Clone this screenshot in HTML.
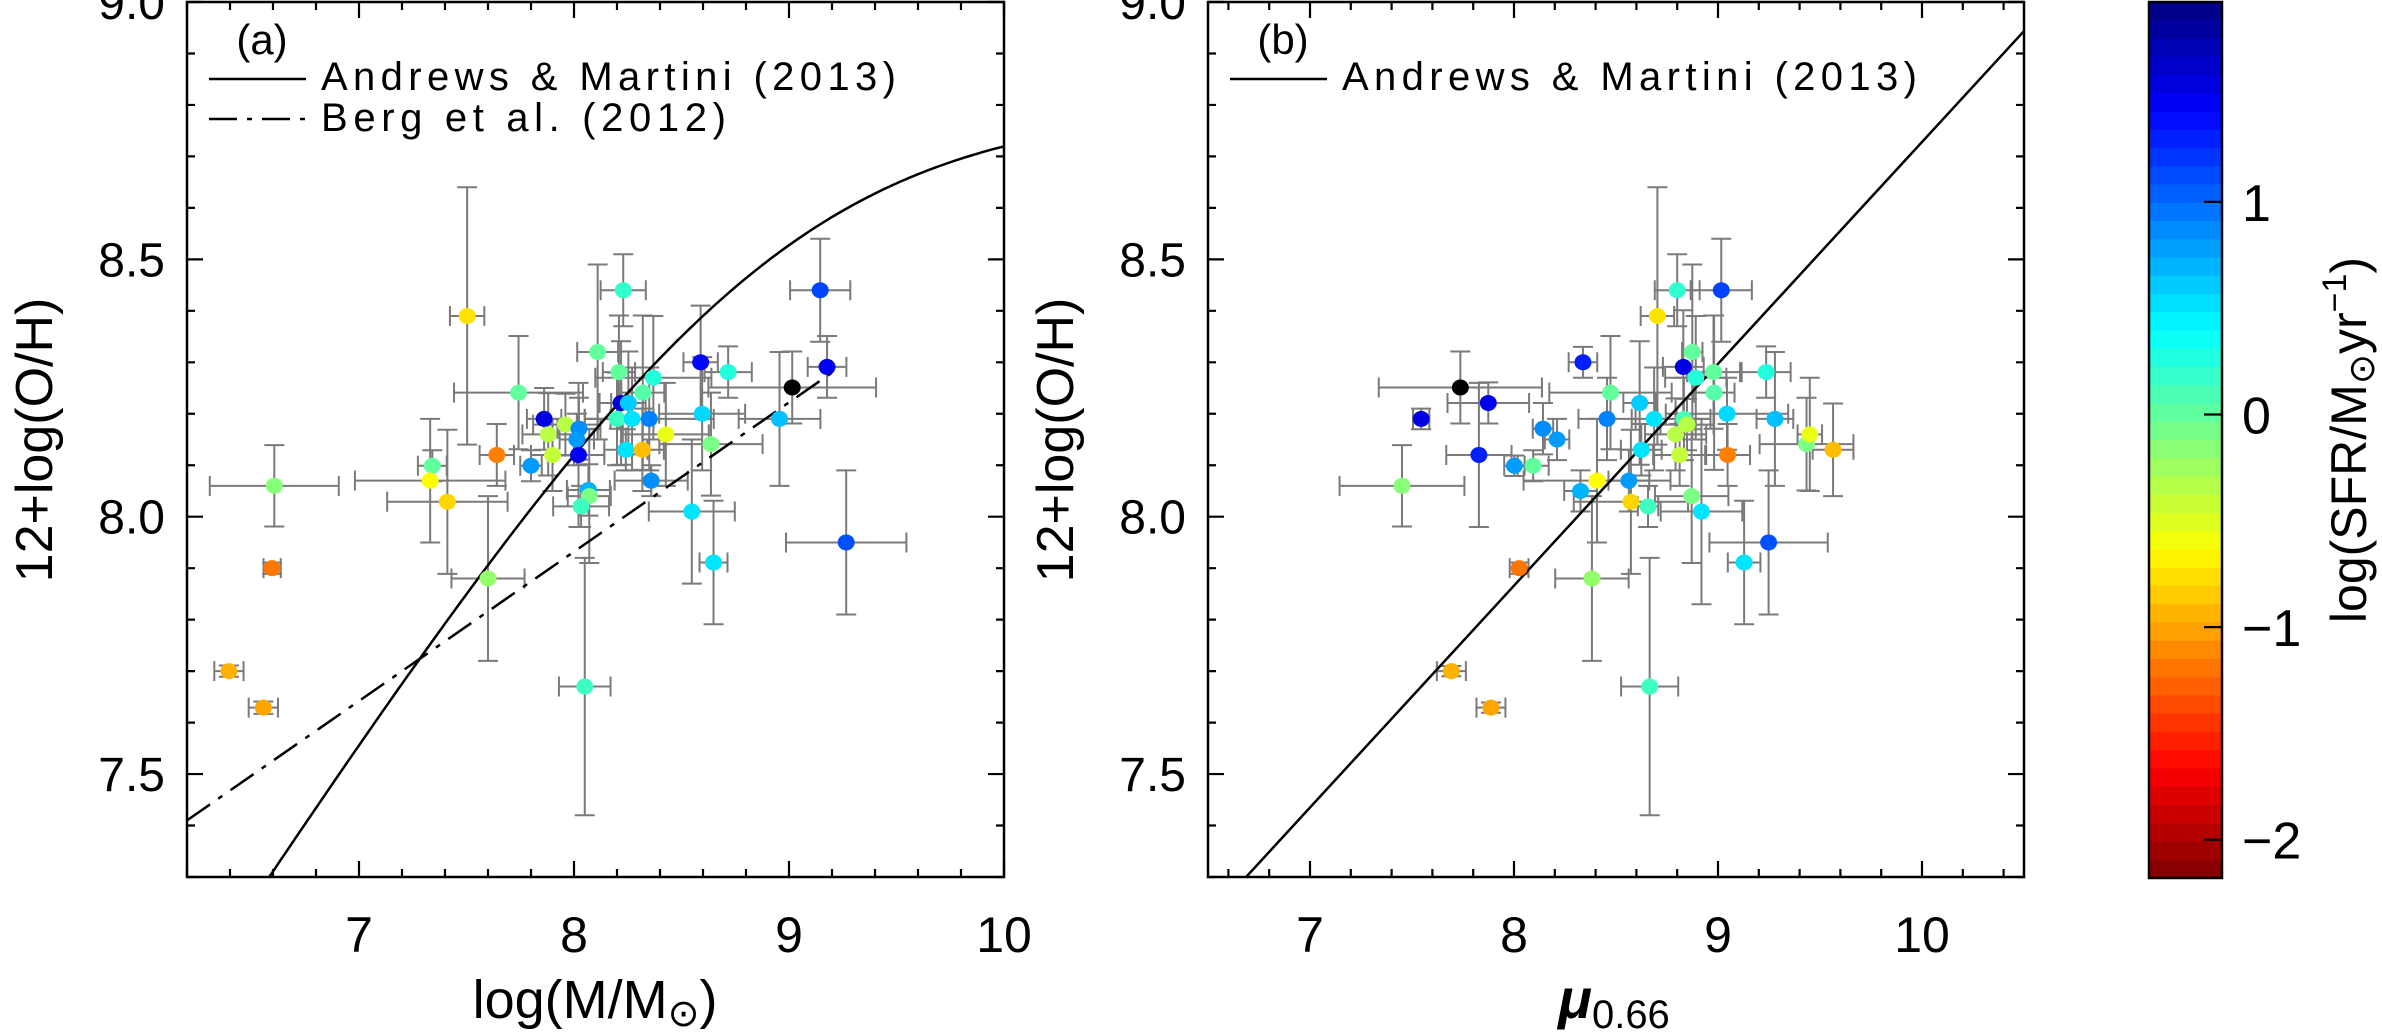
<!DOCTYPE html>
<html><head><meta charset="utf-8"><title>Mass-metallicity</title>
<style>
html,body{margin:0;padding:0;background:#fff;}
svg{display:block;}
text{font-family:"Liberation Sans","DejaVu Sans",sans-serif;fill:#000;}
</style></head>
<body>
<svg id="chart" width="2382" height="1033" viewBox="0 0 2382 1033" xmlns="http://www.w3.org/2000/svg">
<defs>
<clipPath id="clipA"><rect x="187" y="2" width="817" height="875"/></clipPath>
<clipPath id="clipB"><rect x="1208" y="2" width="816" height="875"/></clipPath>
</defs>
<g id="layer-bars"></g>
<g id="layer-lines"></g>
<g id="layer-points"></g>
<g id="layer-axes"></g>
<!-- titles -->
<text x="0" y="0" font-size="52" text-anchor="middle" transform="translate(52,440) rotate(-90)">12+log(O/H)</text>
<text x="0" y="0" font-size="52" text-anchor="middle" transform="translate(1073,440) rotate(-90)">12+log(O/H)</text>
<text x="595" y="1018" font-size="54" text-anchor="middle">log(M/M<tspan font-size="38" dy="8">⊙</tspan><tspan dy="-8">)</tspan></text>
<text x="1614" y="1018" font-size="56" text-anchor="middle"><tspan font-style="italic" font-weight="bold">μ</tspan><tspan font-size="40" dy="10">0.66</tspan></text>
<text x="0" y="0" font-size="50" text-anchor="middle" transform="translate(2366,440) rotate(-90)">log(SFR/M<tspan font-size="36" dy="8">⊙</tspan><tspan dy="-8">yr</tspan><tspan font-size="34" dy="-20">−1</tspan><tspan dy="20">)</tspan></text>
<!-- legends -->
<text x="262" y="54" font-size="42" text-anchor="middle">(a)</text>
<line x1="209" y1="79" x2="306" y2="79" stroke="#000" stroke-width="2.5"/>
<text x="321" y="90" font-size="40" textLength="575" lengthAdjust="spacing">Andrews &amp; Martini (2013)</text>
<line x1="209" y1="119" x2="306" y2="119" stroke="#000" stroke-width="2.5" stroke-dasharray="28,10,5,10"/>
<text x="321" y="131" font-size="40" textLength="405" lengthAdjust="spacing">Berg et al. (2012)</text>
<text x="1283" y="54" font-size="42" text-anchor="middle">(b)</text>
<line x1="1230" y1="79" x2="1327" y2="79" stroke="#000" stroke-width="2.5"/>
<text x="1342" y="90" font-size="40" textLength="575" lengthAdjust="spacing">Andrews &amp; Martini (2013)</text>
</svg>
<script>
// ---- Data (panel a: log M) ----
const massA = [6.606,6.596,6.395,6.555,7.503,7.341,7.331,7.411,7.641,7.600,7.742,7.800,7.861,7.880,7.900,7.960,8.023,8.013,8.021,8.067,8.071,8.033,8.050,8.110,8.229,8.209,8.219,8.253,8.200,8.270,8.241,8.318,8.320,8.369,8.350,8.359,8.427,8.589,8.596,8.637,8.717,8.548,8.649,8.956,9.015,9.145,9.177,9.266];
const ohA = [8.060,7.900,7.700,7.629,8.390,8.099,8.070,8.029,8.120,7.880,8.241,8.099,8.190,8.160,8.120,8.179,8.171,8.150,8.120,8.052,8.040,8.020,7.670,8.320,8.440,8.281,8.221,8.221,8.190,8.190,8.130,8.130,8.241,8.270,8.190,8.070,8.160,8.300,8.200,8.141,8.281,8.010,7.911,8.190,8.251,8.440,8.291,7.950];
const massErrA = [0.30,0.04,0.068,0.068,0.08,0.067,0.35,0.28,0.08,0.17,0.30,0.05,0.08,0.12,0.1,0.15,0.1,0.08,0.12,0.1,0.1,0.13,0.12,0.095,0.105,0.075,0.1,0.08,0.15,0.1,0.1,0.1,0.1,0.27,0.3,0.17,0.2,0.08,0.2,0.24,0.11,0.2,0.065,0.19,0.39,0.14,0.09,0.28];
const ohErrA = [0.079,0.011,0.011,0.012,0.25,0.03,0.12,0.14,0.06,0.16,0.11,0.03,0.06,0.08,0.07,0.06,0.06,0.05,0.14,0.05,0.13,0.04,0.25,0.17,0.07,0.11,0.12,0.1,0.09,0.1,0.04,0.08,0.15,0.12,0.1,0.03,0.1,0.11,0.11,0.1,0.05,0.14,0.12,0.13,0.07,0.1,0.06,0.14];
const sfrA = [-0.15,-1.19,-0.94,-1.0,-0.75,0.0,-0.64,-0.8,-1.15,-0.2,0.0,0.8,1.55,-0.35,-0.4,-0.35,0.85,0.8,1.5,0.7,-0.1,0.15,0.15,0.0,0.2,0.0,1.6,0.6,0.15,0.5,0.5,-0.9,0.05,0.25,0.9,0.85,-0.55,1.4,0.55,-0.1,0.25,0.5,0.5,0.65,null,1.15,1.5,1.1];
// ---- Data (panel b: mu_0.66) ----
const muB = [7.451,8.025,7.693,7.887,8.703,8.094,8.407,8.573,9.047,8.382,8.473,8.002,7.545,7.737,7.874,7.828,8.338,8.142,8.211,8.326,8.456,8.563,8.616,8.687,8.624,8.657,8.665,8.800,8.830,8.874,8.891,8.978,8.981,8.833,8.792,8.848,8.812,8.871,8.919,9.044,9.128,9.236,9.279,9.248,9.016,9.434,9.450,9.564];
const ohB = [8.060,7.900,7.700,7.629,8.390,8.099,8.070,8.029,8.120,7.880,8.241,8.099,8.190,8.251,8.221,8.120,8.300,8.171,8.150,8.050,8.190,8.070,8.221,8.190,8.130,8.020,7.670,8.440,8.291,8.320,8.270,8.281,8.241,8.190,8.160,8.179,8.120,8.040,8.010,8.200,7.911,8.281,8.190,7.950,8.440,8.141,8.160,8.130];
const muErrB = [0.306,0.046,0.071,0.071,0.082,0.076,0.36,0.28,0.11,0.18,0.3,0.05,0.04,0.4,0.2,0.16,0.07,0.05,0.06,0.08,0.14,0.1,0.08,0.11,0.1,0.05,0.14,0.11,0.1,0.05,0.15,0.13,0.1,0.13,0.15,0.13,0.13,0.18,0.2,0.3,0.08,0.12,0.09,0.29,0.15,0.23,0.06,0.1];
const ohErrB = [0.079,0.011,0.01,0.01,0.25,0.03,0.12,0.14,0.06,0.16,0.11,0.02,0.02,0.07,0.04,0.14,0.03,0.05,0.04,0.04,0.08,0.06,0.12,0.1,0.05,0.04,0.25,0.07,0.11,0.17,0.12,0.11,0.15,0.08,0.07,0.05,0.06,0.13,0.18,0.07,0.12,0.05,0.13,0.14,0.1,0.09,0.11,0.09];
const sfrB = [-0.15,-1.19,-0.94,-1.0,-0.75,0.0,-0.64,-0.8,-1.15,-0.2,0.0,0.8,1.55,null,1.5,1.3,1.3,0.85,0.8,0.7,0.9,0.8,0.6,0.5,0.5,0.15,0.15,0.2,1.55,0.0,0.25,0.0,0.05,0.1,-0.35,-0.35,-0.4,-0.1,0.5,0.55,0.5,0.25,0.65,1.1,1.15,-0.1,-0.55,-0.9];
// ---- Axis ticks ----
const xTicksA = [7,8,9,10];
const xTicksB = [7,8,9,10];
const yTicks = [7.5,8.0,8.5,9.0];
const yTickLabels = ["7.5","8.0","8.5","9.0"];
const cbTicks = [1,0,-1,-2];
const cbTickLabels = ["1","0","−1","−2"];
// ---- Relations ----
const bergSlope = [0.29, 5.612];   // slope, intercept
const amMuLine = [0.431, 4.418];   // slope, intercept

const NS = "http://www.w3.org/2000/svg";
const svg = document.getElementById('chart');
const LB = document.getElementById('layer-bars');
const LL = document.getElementById('layer-lines');
const LP = document.getElementById('layer-points');
const LX = document.getElementById('layer-axes');
function mk(tag, attrs, parent){const e=document.createElementNS(NS,tag);for(const k in attrs)e.setAttribute(k,attrs[k]);parent.appendChild(e);return e;}

const PA = {x0:187,x1:1004,xmin:6.2,xmax:10,y0:2,y1:877,ymin:7.3,ymax:9.0,clip:'clipA',name:'a'};
const PB = {x0:1208,x1:2024,xmin:6.5,xmax:10.5,y0:2,y1:877,ymin:7.3,ymax:9.0,clip:'clipB',name:'b'};
function sx(p,v){return p.x0+(v-p.xmin)/(p.xmax-p.xmin)*(p.x1-p.x0);}
function sy(p,v){return p.y1-(v-p.ymin)/(p.ymax-p.ymin)*(p.y1-p.y0);}

const CB = {x0:2149,x1:2222,y0:2,y1:878,vmax:1.94,vmin:-2.18};
function cy(v){return CB.y0+(CB.vmax-v)/(CB.vmax-CB.vmin)*(CB.y1-CB.y0);}
function cl(a){return Math.max(0,Math.min(1,a));}
function jet(p){const r=cl(Math.min(4*p-1.5,-4*p+4.5)),g=cl(Math.min(4*p-0.5,-4*p+3.5)),b=cl(Math.min(4*p+0.5,-4*p+2.5));return 'rgb('+Math.round(r*255)+','+Math.round(g*255)+','+Math.round(b*255)+')';}
function sfrColor(v){if(v===null)return '#000';return jet((CB.vmax-v)/(CB.vmax-CB.vmin));}

function drawPoints(p, xs, ys, xe, ye, sf){
  const gb = mk('g',{'clip-path':'url(#'+p.clip+')'},LB);
  
  
  const gp = mk('g',{},LP);
  
  
  const cap=10;
  for(let i=0;i<xs.length;i++){
    const X=sx(p,xs[i]),Y=sy(p,ys[i]);
    const xl=sx(p,xs[i]-xe[i]),xr=sx(p,xs[i]+xe[i]);
    const yt=sy(p,ys[i]+ye[i]),yb=sy(p,ys[i]-ye[i]);
    const d='M'+xl+','+Y+'H'+xr+'M'+xl+','+(Y-cap)+'V'+(Y+cap)+'M'+xr+','+(Y-cap)+'V'+(Y+cap)+
            'M'+X+','+yt+'V'+yb+'M'+(X-cap)+','+yt+'H'+(X+cap)+'M'+(X-cap)+','+yb+'H'+(X+cap);
    const e=mk('path',{d:d,stroke:'#7a7a7a','stroke-width':2,fill:'none'},gb);
    
    
    const c=mk('ellipse',{cx:X,cy:Y,rx:8.5,ry:8,fill:sfrColor(sf[i])},gp);
    
    
  }
}
drawPoints(PA,massA,ohA,massErrA,ohErrA,sfrA);
drawPoints(PB,muB,ohB,muErrB,ohErrB,sfrB);

// Relations
function amMass(m){return 8.798-Math.log10(1+Math.pow(Math.pow(10,8.901-m),0.64));}
let d='';
for(let m=6.2;m<=10.0001;m+=0.02){d+=(d?'L':'M')+sx(PA,m).toFixed(1)+','+sy(PA,amMass(m)).toFixed(1);}
const l1=mk('path',{d:d,stroke:'#000','stroke-width':2.5,fill:'none','clip-path':'url(#clipA)'},LL);


const bx0=6.2,bx1=9.2;
const l2=mk('line',{x1:sx(PA,bx0),y1:sy(PA,bergSlope[0]*bx0+bergSlope[1]),x2:sx(PA,bx1),y2:sy(PA,bergSlope[0]*bx1+bergSlope[1]),stroke:'#000','stroke-width':2.5,'stroke-dasharray':'28,10,5,10','clip-path':'url(#clipA)'},LL);


const ux0=6.5,ux1=10.5;
const l3=mk('line',{x1:sx(PB,ux0),y1:sy(PB,amMuLine[0]*ux0+amMuLine[1]),x2:sx(PB,ux1),y2:sy(PB,amMuLine[0]*ux1+amMuLine[1]),stroke:'#000','stroke-width':2.5,'clip-path':'url(#clipB)'},LL);



// Axes
function drawAxes(p, xt){
  const g=mk('g',{},LX);
  
  
  const fr=mk('rect',{x:p.x0,y:p.y0,width:p.x1-p.x0,height:p.y1-p.y0,fill:'none',stroke:'#000','stroke-width':2.5},g);
  
  
  let td='';
  for(let v=Math.ceil(p.xmin*5)/5; v<=p.xmax+1e-6; v+=0.2){
    const X=sx(p,v); const major=Math.abs(v-Math.round(v))<1e-6; const L=major?16:8;
    td+='M'+X+','+p.y1+'V'+(p.y1-L)+'M'+X+','+p.y0+'V'+(p.y0+L);
  }
  for(let v=Math.ceil(p.ymin*10)/10; v<=p.ymax+1e-6; v+=0.1){
    const Y=sy(p,v); const major=Math.abs(v*2-Math.round(v*2))<1e-6; const L=major?16:8;
    td+='M'+p.x0+','+Y+'H'+(p.x0+L)+'M'+p.x1+','+Y+'H'+(p.x1-L);
  }
  const tk=mk('path',{d:td,stroke:'#000','stroke-width':2.2,fill:'none'},g);
  
  
  xt.forEach(v=>{
    const t=mk('text',{x:sx(p,v),y:952,'font-size':50,'text-anchor':'middle'},g);
    t.textContent=String(v);
    
    
  });
  yTicks.forEach((v,i)=>{
    const t=mk('text',{x:p.x0-22,y:sy(p,v)+17,'font-size':48,'text-anchor':'end'},g);
    t.textContent=yTickLabels[i];
    
    
  });
}
drawAxes(PA,xTicksA);
drawAxes(PB,xTicksB);

// Colorbar
const gcb=mk('g',{},LX);


const NB=48;
for(let i=0;i<NB;i++){
  const v0=CB.vmax-(CB.vmax-CB.vmin)*i/NB, v1=CB.vmax-(CB.vmax-CB.vmin)*(i+1)/NB;
  const r=mk('rect',{x:CB.x0,y:cy(v0),width:CB.x1-CB.x0,height:cy(v1)-cy(v0)+0.6,fill:jet((i+0.5)/NB)},gcb);
  
  
}
const cbf=mk('rect',{x:CB.x0,y:CB.y0,width:CB.x1-CB.x0,height:CB.y1-CB.y0,fill:'none',stroke:'#000','stroke-width':2.5},gcb);


cbTicks.forEach((v,i)=>{
  const Y=cy(v);
  const tl=mk('line',{x1:CB.x1-18,y1:Y,x2:CB.x1,y2:Y,stroke:'#000','stroke-width':2.2},gcb);
  
  
  const t=mk('text',{x:2242,y:Y+19,'font-size':52},gcb);
  t.textContent=cbTickLabels[i];
  
  
});
</script>
</body></html>
